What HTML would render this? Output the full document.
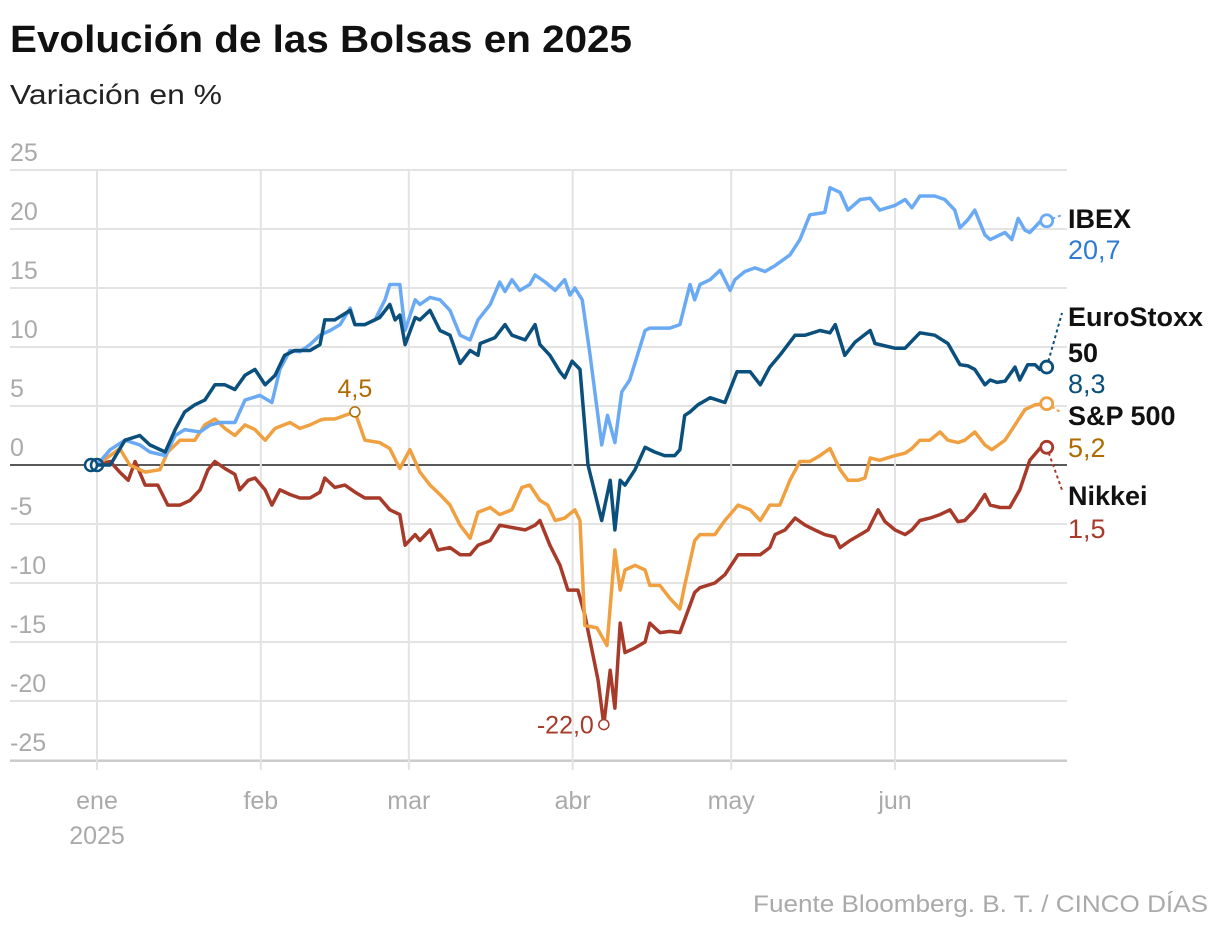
<!DOCTYPE html>
<html><head><meta charset="utf-8"><style>
body{margin:0;background:#fff;width:1220px;height:932px;overflow:hidden;font-family:"Liberation Sans",sans-serif}
</style></head><body>
<svg width="1220" height="932" xmlns="http://www.w3.org/2000/svg">
<text x="10" y="52" font-size="38" font-weight="bold" fill="#111" textLength="622" lengthAdjust="spacingAndGlyphs">Evolución de las Bolsas en 2025</text>
<text x="10" y="104" font-size="28" fill="#222" textLength="212" lengthAdjust="spacingAndGlyphs">Variación en %</text>
<g id="grid"></g>
<g id="series"></g>
<g id="labels"></g>
<text x="1208" y="912" font-size="24" fill="#aaa" text-anchor="end" textLength="455" lengthAdjust="spacingAndGlyphs">Fuente Bloomberg. B. T. / CINCO DÍAS</text>
</svg>
<script>
const yTicks=[25,20,15,10,5,0,-5,-10,-15,-20,-25];
const monthDays=[0,31,59,90,120,151];
const monthLabels=["ene","feb","mar","abr","may","jun"];
const ibexDays=[0,2.5,5.3,8.1,10,12.9,14.8,16.6,19.5,21.4,23.3,26.1,28,30.8,33.1,34.6,36.5,38.4,40.3,42.2,44.1,46,47.9,48.8,50.7,52.6,54.5,55.4,57.3,58.3,60.2,61.1,63,64.9,66.8,68.7,70.6,72.1,74.4,76.2,77.2,78.5,80,81.9,82.9,84.8,86.7,88.5,89.5,90.4,91.8,93.3,95.5,96.6,98,99.3,100.8,103.7,104.6,108.4,110.3,112.2,113.1,114.1,116,117.9,119.8,120.7,122.6,124.5,126.4,128.3,131.1,133,134.9,137.7,138.7,140.6,142.1,144.4,146.3,148.1,151,152.9,154.2,155.7,158.5,160.4,162.3,163.3,164.8,166.1,168,169,171.8,173.1,174.3,175.6,176.5,178.4,179.7];
const ibexVals=[0,1.3,2.1,1.7,1.1,0.8,2.5,3,2.8,3.4,3.6,3.6,5.5,5.9,5.3,8.1,9.7,9.6,10.2,11,11.4,11.9,13.3,11.9,11.9,12.3,14,15.3,15.3,11.4,14,13.6,14.2,14,13.1,11,10.6,12.3,13.6,15.5,14.7,15.7,14.8,15.3,16.1,15.5,14.8,15.7,14.4,15,14,9.3,1.7,4.2,1.9,6.2,7.2,11.4,11.6,11.6,11.9,15.3,14,15.3,15.7,16.5,14.8,15.7,16.4,16.7,16.4,16.9,17.8,19.1,21.2,21.4,23.5,23.1,21.6,22.5,22.6,21.6,22,22.5,21.8,22.8,22.8,22.5,21.6,20.1,20.8,21.6,19.5,19.1,19.7,19.1,20.9,19.9,19.7,20.6,20.7];
const stoxxDays=[0,2.5,5.3,8.1,10,12.9,14.8,16.6,18.5,20.4,22.3,24.2,26.1,28,29.9,31.8,33.7,35.5,37.4,40.3,42.2,43.1,45,47.9,48.8,50.7,53.5,55.4,56.4,57.3,58.3,60.2,61.1,63,64.9,66.8,68.7,70.6,72.1,72.5,75.3,77.2,78.5,81,82.9,83.8,85.7,87.6,88.5,89.9,91.4,92.9,95.5,97.1,98,99,99.9,101.8,103.7,105.5,107.4,109.3,110.3,111.2,112.2,113.7,116,118.8,121.1,123.6,125.5,127.3,129.2,132.1,134,136.8,138.7,139.7,141.5,143.4,146.3,147.2,151,152.9,154.2,155.7,158.5,161,163.3,164.8,166.1,168,169,170.3,171.8,173.7,174.6,176.1,177.5,178.4,179.7];
const stoxxVals=[0,0,2.1,2.5,1.7,1.1,3,4.5,5.1,5.5,6.8,6.8,6.4,7.6,8.1,6.8,7.6,9.3,9.7,9.7,10.2,12.3,12.3,13.1,11.9,11.9,12.5,13.6,12.3,12.7,10.2,12.5,12.3,13.1,11.4,11,8.6,9.7,9.3,10.3,10.8,11.9,11,10.6,11.9,10.2,9.3,7.9,7.4,8.8,8.1,0,-4.7,-1.3,-5.5,-1.3,-1.7,-0.4,1.5,1.1,0.8,0.8,1.3,4.2,4.5,5.1,5.7,5.3,7.9,7.9,6.8,8.3,9.3,11,11,11.4,11.2,11.9,9.3,10.4,11.4,10.3,9.9,9.9,10.5,11.2,11,10.3,8.5,8.4,8.1,6.8,7.2,7,7.1,8.3,7.2,8.5,8.5,8.1,8.3];
const spDays=[0,2.5,4.3,6.2,9.1,11.9,13.4,15.7,18.5,20.4,22.3,24.2,26.1,28,29.9,31.8,33.7,36.5,38.4,40.3,42.2,43.1,45,46.9,48.8,50.7,53.5,55.4,57.3,59.2,61.1,63,64.9,66.8,68.7,70.6,72.1,74.4,76.2,78.5,80.4,81.9,83.8,85.3,86.7,88.5,90.4,91.4,92.3,94.6,96.5,98,99,99.9,101.8,103.7,104.6,106.5,108.4,110.3,111.2,113.1,114.1,116.9,118.8,121.3,123.6,125.5,127.3,129.2,131.1,133,134.9,136.8,138.7,140.6,142.1,144,145.3,146.3,148.1,151,152.9,154.2,155.7,157.6,159.5,161,162.9,164.2,166.1,168,169.3,171.8,173.7,175.6,177.5,179.7];
const spVals=[0,0.8,1.4,0,-0.6,-0.4,1.1,2.1,2.1,3.4,3.9,3.1,2.5,3.4,3,2.1,3.1,3.6,3.1,3.4,3.8,3.9,3.9,4.2,4.5,2.1,1.9,1.4,-0.3,1.3,-0.6,-1.7,-2.5,-3.4,-5.1,-6.2,-4,-3.6,-4.2,-3.8,-1.9,-1.7,-3,-3.4,-4.7,-4.5,-3.8,-4.7,-13.6,-13.8,-15.3,-7.2,-10.6,-8.9,-8.5,-8.9,-10.2,-10.2,-11.3,-12.2,-10.2,-6.4,-5.9,-5.9,-4.7,-3.4,-3.8,-4.7,-3.4,-3.4,-1.3,0.3,0.3,0.8,1.4,-0.4,-1.3,-1.3,-1.1,0.6,0.4,0.8,1,1.4,2.1,2.1,2.8,2.1,1.9,2.1,2.8,1.7,1.3,2.1,3.4,4.7,5.1,5.2];
const nkDays=[0,2.5,4.3,5.9,7.2,9.1,11.5,13.4,15.7,17.6,19.5,21,22.3,24.2,26.1,27,28.6,29.9,31.8,33.1,34.6,36.5,38.4,40.3,42.2,43.1,45,46.9,48.8,50.7,53.5,55.4,57.3,58.3,60.2,61.1,63,64.5,66.8,68.7,70.6,72.1,74.4,76.2,78.5,81,82.9,83.8,85.7,87.6,89.1,91,92.3,94.8,95.9,97.1,98,99,99.9,101.8,103.7,104.6,106.5,108.4,110.3,113.1,114.1,116.9,118.8,121.3,125.5,127.3,128.3,130.2,132.1,134,135.8,137.7,139.6,140.6,142.5,144.4,145.9,147.8,149.1,151,152.9,154.2,155.7,157.6,159.5,161.4,162.9,164.2,166.1,168,169,170.9,172.7,174.6,176.5,178.4,179.7];
const nkVals=[0,0.3,-0.6,-1.3,0.3,-1.7,-1.7,-3.4,-3.4,-3,-2.1,-0.4,0.3,-0.3,-0.8,-2.1,-1.3,-1.1,-2.1,-3.4,-2.1,-2.5,-2.8,-2.8,-2.3,-1.1,-1.9,-1.7,-2.3,-2.8,-2.8,-3.8,-4.2,-6.8,-5.9,-6.4,-5.5,-7.2,-7,-7.6,-7.6,-6.8,-6.4,-5.1,-5.3,-5.5,-5.1,-4.7,-6.8,-8.5,-10.6,-10.6,-12.7,-18.2,-22.0,-17.4,-20.6,-13.4,-15.9,-15.5,-15,-13.4,-14.2,-14.1,-14.2,-10.8,-10.4,-10,-9.3,-7.6,-7.6,-7,-5.9,-5.5,-4.5,-5.1,-5.5,-5.9,-6.1,-7,-6.4,-5.9,-5.5,-3.8,-4.8,-5.5,-5.9,-5.5,-4.7,-4.5,-4.2,-3.8,-4.8,-4.7,-3.8,-2.5,-3.4,-3.6,-3.6,-2.1,0.4,1.4,1.5];
const seriesNames=["IBEX","EuroStoxx 50","S&P 500","Nikkei"];
const endLabels=["20,7","8,3","5,2","1,5"];

const NS="http://www.w3.org/2000/svg";
const X=d=>97+d*5.285;
const Y=v=>465-v*11.8;
function mk(tag,attrs,parent,txt){const e=document.createElementNS(NS,tag);for(const k in attrs)e.setAttribute(k,attrs[k]);if(txt!==undefined)e.textContent=txt;parent.appendChild(e);return e;}
const grid=document.getElementById('grid'),ser=document.getElementById('series'),lab=document.getElementById('labels');
yTicks.forEach(t=>{
  const l=mk('line',{x1:10,x2:1067,y1:Y(t),y2:Y(t),stroke:t===0?'#222':'#e3e3e3','stroke-width':t===0?1.5:2},grid);
  
  
  const tx=mk('text',{x:10,y:Y(t)-9,'font-size':25,fill:'#aaa'},grid,String(t));
  
  
});
mk('line',{x1:10,x2:1067,y1:Y(-25)+1,y2:Y(-25)+1,stroke:'#ccc','stroke-width':2},grid);
monthDays.forEach((d,i)=>{
  const l=mk('line',{x1:X(d),x2:X(d),y1:Y(25),y2:Y(-25)+10,stroke:'#e3e3e3','stroke-width':2},grid);
  
  
  const tx=mk('text',{x:X(d),y:809,'font-size':25,fill:'#aaa','text-anchor':'middle'},grid,monthLabels[i]);
  
  
});
const yr=mk('text',{x:X(0),y:844,'font-size':25,fill:'#aaa','text-anchor':'middle'},grid,"2025");



const sets=[[ibexDays,ibexVals,'#6aaaf5','#2f7bd0'],[stoxxDays,stoxxVals,'#0b4f7c','#0b4f7c'],[spDays,spVals,'#f0a040','#b06a00'],[nkDays,nkVals,'#a83a2a','#a83a2a']];
const order=[3,2,0,1];
order.forEach(i=>{
  const [ds,vs,c]=sets[i];
  const p=mk('path',{d:ds.map((d,j)=>(j?'L':'M')+X(d).toFixed(1)+','+Y(vs[j]).toFixed(1)).join(''),fill:'none',stroke:c,'stroke-width':3.5,'stroke-linejoin':'round'},ser);
  
  
});
const s1=mk('circle',{cx:91,cy:465,r:6,fill:'#fff',stroke:'#0b4f7c','stroke-width':2.5},ser);


const s2=mk('circle',{cx:97,cy:465,r:6,fill:'none',stroke:'#0b4f7c','stroke-width':2.5},ser);


const nameY=[[228],[326,362],[425],[505]];
const valY=[259,393,457,538];
const leaderEnd=[[1062,215],[1062,313],[1062,413],[1062,490]];
sets.forEach(([ds,vs,c,lc],i)=>{
  const ex=X(ds[ds.length-1]),ey=Y(vs[vs.length-1]);
  const ld=mk('line',{x1:ex,y1:ey,x2:leaderEnd[i][0],y2:leaderEnd[i][1],stroke:c,'stroke-width':2,'stroke-dasharray':'3,3'},lab);
  
  
  const ci=mk('circle',{cx:ex,cy:ey,r:6,fill:'#fff',stroke:c,'stroke-width':2.8},lab);
  
  
  const parts=i===1?["EuroStoxx","50"]:[seriesNames[i]];
  parts.forEach((t,k)=>{
    const n=mk('text',{x:1068,y:nameY[i][k],'font-size':27,'font-weight':'bold',fill:'#111'},lab,t);
    
    
  });
  const v=mk('text',{x:1068,y:valY[i],'font-size':27,fill:lc},lab,endLabels[i]);
  
  
});
const spMax=spVals.indexOf(4.5), nkMin=nkVals.indexOf(-22.0);
const a1c=mk('circle',{cx:X(spDays[spMax]),cy:Y(4.5),r:5,fill:'#fff',stroke:'#b06a00','stroke-width':1.5},lab);


const a1=mk('text',{x:X(spDays[spMax]),y:Y(4.5)-15,'font-size':25,fill:'#b06a00','text-anchor':'middle'},lab,"4,5");


const a2c=mk('circle',{cx:X(nkDays[nkMin]),cy:Y(-22),r:5,fill:'#fff',stroke:'#a83a2a','stroke-width':1.5},lab);


const a2=mk('text',{x:X(nkDays[nkMin])-10,y:Y(-22)+9,'font-size':25,fill:'#a83a2a','text-anchor':'end'},lab,"-22,0");


</script>
</body></html>
